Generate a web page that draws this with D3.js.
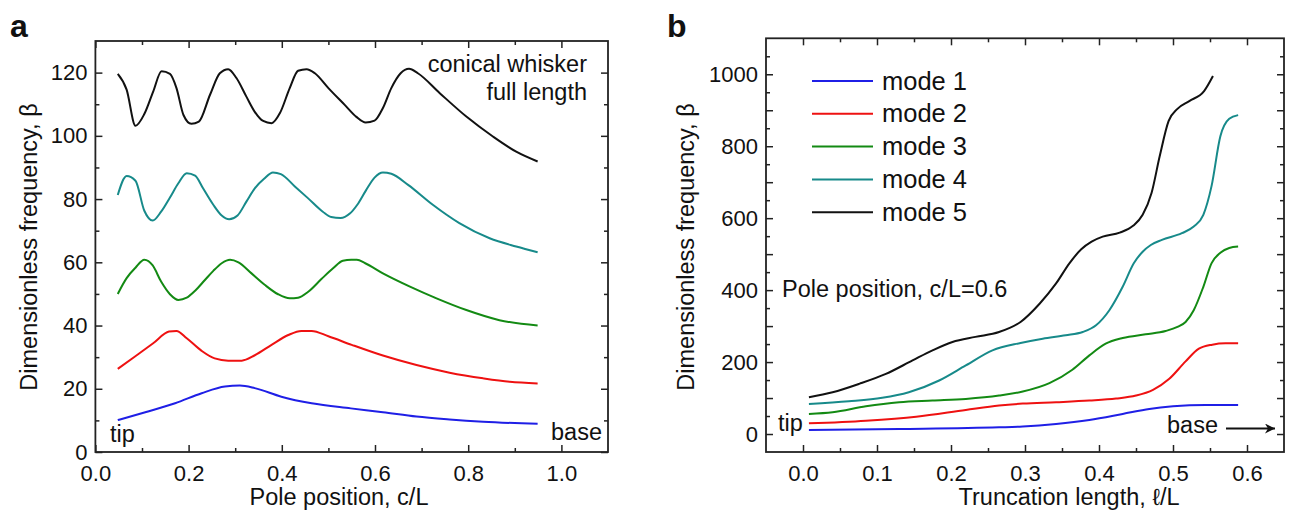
<!DOCTYPE html>
<html><head><meta charset="utf-8">
<script src="https://cdn.jsdelivr.net/npm/d3@7"></script>
<style>
body{margin:0;background:#fff}
text{font-family:"Liberation Sans",Arial,sans-serif;fill:#111}
</style>
</head><body>
<svg id="chart" width="1290" height="513"></svg>
<script>
// ---------- data: panel a (pole position c/L vs beta) ----------
const aMode1 = [[0.048,10.1],[0.107,12.6],[0.171,15.4],[0.228,18.6],[0.278,20.7],[0.310,21.0],[0.342,20.2],[0.399,17.5],[0.464,15.4],[0.548,13.8],[0.617,12.6],[0.689,11.2],[0.760,10.3],[0.832,9.6],[0.949,8.9]];
const aMode2 = [[0.048,26.3],[0.085,30.2],[0.124,34.4],[0.158,38.1],[0.174,38.3],[0.196,36.0],[0.228,32.0],[0.256,29.6],[0.285,28.9],[0.314,28.9],[0.342,30.6],[0.378,33.9],[0.414,37.0],[0.442,38.3],[0.464,38.3],[0.500,36.6],[0.550,33.9],[0.617,30.5],[0.689,27.5],[0.760,25.1],[0.832,23.3],[0.889,22.2],[0.949,21.7]];
const aMode3 = [[0.048,50.0],[0.067,55.0],[0.086,58.3],[0.105,60.8],[0.123,59.0],[0.141,53.9],[0.160,49.9],[0.178,48.1],[0.196,48.8],[0.214,51.0],[0.235,54.4],[0.253,57.3],[0.271,59.7],[0.289,60.8],[0.307,60.0],[0.335,56.5],[0.364,52.8],[0.392,49.9],[0.417,48.6],[0.435,48.8],[0.456,50.6],[0.485,54.7],[0.510,58.1],[0.531,60.5],[0.549,60.8],[0.561,60.8],[0.579,59.7],[0.617,56.5],[0.675,52.3],[0.732,48.6],[0.796,44.9],[0.867,41.7],[0.949,40.0]];
const aMode4 = [[0.048,81.3],[0.067,87.3],[0.086,85.8],[0.105,76.3],[0.123,73.2],[0.141,76.0],[0.160,80.5],[0.178,85.0],[0.196,88.2],[0.214,87.4],[0.231,83.4],[0.253,78.2],[0.271,74.8],[0.287,73.6],[0.305,74.8],[0.324,79.2],[0.342,83.4],[0.362,86.4],[0.381,88.4],[0.398,87.9],[0.428,84.0],[0.456,80.3],[0.488,76.0],[0.506,74.3],[0.526,74.0],[0.546,75.4],[0.562,78.2],[0.580,82.6],[0.599,86.8],[0.617,88.4],[0.635,88.0],[0.671,84.5],[0.724,78.2],[0.781,72.4],[0.846,67.6],[0.903,65.0],[0.949,63.2]];
const aMode5 = [[0.048,119.6],[0.067,114.6],[0.086,103.2],[0.105,106.9],[0.124,114.0],[0.142,120.4],[0.160,119.6],[0.174,115.1],[0.189,106.6],[0.206,103.8],[0.222,104.5],[0.246,113.0],[0.267,119.8],[0.285,121.1],[0.303,118.2],[0.324,112.4],[0.342,107.6],[0.360,104.7],[0.378,104.0],[0.396,107.2],[0.417,115.1],[0.435,120.6],[0.453,121.1],[0.471,119.8],[0.500,115.1],[0.535,109.8],[0.560,106.0],[0.580,104.2],[0.599,104.8],[0.617,108.8],[0.635,115.1],[0.655,119.8],[0.673,121.2],[0.692,119.8],[0.739,113.5],[0.796,106.1],[0.853,99.8],[0.903,95.0],[0.949,91.9]];

// ---------- data: panel b (truncation length l/L vs beta) ----------
const bMode1 = [[0.008,11.2],[0.130,14.0],[0.265,18.6],[0.297,20.8],[0.342,27.8],[0.387,39.0],[0.432,55.8],[0.468,69.8],[0.500,77.1],[0.544,80.9],[0.588,80.9]];
const bMode2 = [[0.008,29.6],[0.085,37.1],[0.153,48.3],[0.220,67.0],[0.265,79.1],[0.297,84.5],[0.342,88.4],[0.387,93.0],[0.423,98.6],[0.450,106.9],[0.473,122.8],[0.495,153.5],[0.517,201.8],[0.535,237.2],[0.553,248.4],[0.571,252.1],[0.588,252.1]];
const bMode3 = [[0.008,55.8],[0.040,60.5],[0.085,77.0],[0.130,88.2],[0.175,93.0],[0.220,97.6],[0.265,106.9],[0.297,118.0],[0.333,141.3],[0.364,178.6],[0.387,218.5],[0.409,251.0],[0.432,266.9],[0.463,277.1],[0.490,286.4],[0.506,297.6],[0.517,311.5],[0.528,344.1],[0.541,409.2],[0.552,474.5],[0.564,504.0],[0.576,517.2],[0.588,521.0]];
const bMode4 = [[0.008,83.7],[0.062,91.0],[0.107,100.5],[0.143,116.0],[0.184,148.8],[0.220,190.6],[0.256,232.5],[0.294,253.0],[0.324,265.0],[0.355,274.3],[0.378,283.6],[0.396,302.3],[0.414,344.1],[0.432,409.2],[0.447,474.5],[0.459,506.8],[0.470,525.5],[0.485,539.5],[0.512,558.2],[0.528,576.8],[0.541,609.3],[0.552,688.3],[0.564,827.8],[0.576,876.3],[0.588,886.5]];
const bMode5 = [[0.008,102.0],[0.040,116.0],[0.076,139.5],[0.112,167.0],[0.148,204.6],[0.175,232.5],[0.202,255.8],[0.233,270.0],[0.265,283.6],[0.294,311.5],[0.320,362.8],[0.342,418.6],[0.360,474.5],[0.376,513.5],[0.390,534.8],[0.405,548.6],[0.428,559.9],[0.446,578.6],[0.459,609.3],[0.471,669.8],[0.482,772.0],[0.494,869.7],[0.506,904.0],[0.522,925.5],[0.542,953.4],[0.554,995.3]];

const modeNames = ["mode 1","mode 2","mode 3","mode 4","mode 5"];

// ---------- tick values ----------
const aXMajor = [0,0.2,0.4,0.6,0.8,1.0];
const aXMinor = [0.1,0.3,0.5,0.7,0.9];
const aYMajor = [0,20,40,60,80,100,120];
const aYMinor = [10,30,50,70,90,110];
const bXMajor = [0,0.1,0.2,0.3,0.4,0.5,0.6];
const bXMinor = [0.05,0.15,0.25,0.35,0.45,0.55];
const bYLabeled = [0,200,400,600,800,1000];
const bYMajor = [0,100,200,300,400,500,600,700,800,900,1000];
const bYMinor = [50,150,250,350,450,550,650,750,850,950,1050];

// ---------- style ----------
const colors = ["#1f1fe6","#ee1111","#138a13","#178a8a","#111111"];
const svg = d3.select("#chart");

const defs = svg.append("defs");
defs.append("marker").attr("id","arr").attr("viewBox","0 0 10 10")
  .attr("refX",10).attr("refY",5).attr("markerWidth",17).attr("markerHeight",10)
  .attr("markerUnits","userSpaceOnUse").attr("orient","auto")
  .append("path").attr("d","M0,0 L10,5 L0,10 L3,5 Z").attr("fill","#111");

function frame(x, y, xMaj, xMin, yMaj, yMin, yLab, xFmt, yFmt){
  const [x0,x1] = x.range(), [y0,y1] = y.range();
  const g = svg.append("g");
  const style = sel => {
    sel.select(".domain").remove();
    sel.selectAll("line").attr("stroke","#222").attr("stroke-width",1.5);
    sel.selectAll("text").attr("font-family",'"Liberation Sans",Arial,sans-serif').attr("font-size",22).attr("fill","#111");
  };
  g.append("g").attr("transform",`translate(0,${y0})`)
    .call(d3.axisBottom(x).tickValues(xMaj).tickSizeInner(-7).tickSizeOuter(0).tickPadding(13).tickFormat(xFmt)).call(style);
  g.append("g").attr("transform",`translate(0,${y0})`)
    .call(d3.axisBottom(x).tickValues(xMin).tickSizeInner(-4).tickSizeOuter(0).tickFormat("")).call(style);
  g.append("g").attr("transform",`translate(0,${y1})`)
    .call(d3.axisTop(x).tickValues(xMaj).tickSizeInner(-7).tickSizeOuter(0).tickFormat("")).call(style);
  g.append("g").attr("transform",`translate(0,${y1})`)
    .call(d3.axisTop(x).tickValues(xMin).tickSizeInner(-4).tickSizeOuter(0).tickFormat("")).call(style);
  g.append("g").attr("transform",`translate(${x0},0)`)
    .call(d3.axisLeft(y).tickValues(yMaj).tickSizeInner(-7).tickSizeOuter(0).tickPadding(8)
      .tickFormat(d => yLab.includes(d) ? yFmt(d) : "")).call(style);
  g.append("g").attr("transform",`translate(${x0},0)`)
    .call(d3.axisLeft(y).tickValues(yMin).tickSizeInner(-4).tickSizeOuter(0).tickFormat("")).call(style);
  g.append("g").attr("transform",`translate(${x1},0)`)
    .call(d3.axisRight(y).tickValues(yMaj).tickSizeInner(-7).tickSizeOuter(0).tickFormat("")).call(style);
  g.append("g").attr("transform",`translate(${x1},0)`)
    .call(d3.axisRight(y).tickValues(yMin).tickSizeInner(-4).tickSizeOuter(0).tickFormat("")).call(style);
  g.append("rect").attr("x",x0).attr("y",y1).attr("width",x1-x0).attr("height",y0-y1)
    .attr("fill","none").attr("stroke","#222").attr("stroke-width",1.8);
}

function drawLines(x, y, series){
  const line = d3.line().x(d=>x(d[0])).y(d=>y(d[1])).curve(d3.curveMonotoneX);
  series.forEach((s,i)=>{
    svg.append("path").datum(s).attr("d",line).attr("fill","none")
      .attr("stroke",colors[i]).attr("stroke-width",2).attr("stroke-linejoin","round");
  });
}

const FS = 23.5;

// ---------- panel a ----------
const xa = d3.scaleLinear().domain([0,1.1]).range([95.4,608]);
const ya = d3.scaleLinear().domain([0,130]).range([452,41]);
frame(xa, ya, aXMajor, aXMinor, aYMajor, aYMinor, aYMajor, d3.format(".1f"), d3.format("d"));
drawLines(xa, ya, [aMode1,aMode2,aMode3,aMode4,aMode5]);

svg.append("text").attr("x",10).attr("y",37).attr("font-size",32).attr("font-weight","bold").text("a");
svg.append("text").attr("x",339).attr("y",505).attr("text-anchor","middle").attr("font-size",FS).text("Pole position, c/L");
svg.append("text").attr("transform","translate(37,247) rotate(-90)").attr("text-anchor","middle").attr("font-size",FS).text("Dimensionless frequency, β");
svg.append("text").attr("x",587).attr("y",72).attr("text-anchor","end").attr("font-size",FS).text("conical whisker");
svg.append("text").attr("x",587).attr("y",100).attr("text-anchor","end").attr("font-size",FS).text("full length");
svg.append("text").attr("x",110).attr("y",442).attr("font-size",FS).text("tip");
svg.append("text").attr("x",602).attr("y",440).attr("text-anchor","end").attr("font-size",FS).text("base");

// ---------- panel b ----------
const xb = d3.scaleLinear().domain([-0.05,0.65]).range([766,1284]);
const yb = d3.scaleLinear().domain([-50,1100]).range([452,38.3]);
frame(xb, yb, bXMajor, bXMinor, bYMajor, bYMinor, bYLabeled, d3.format(".1f"), d3.format("d"));
drawLines(xb, yb, [bMode1,bMode2,bMode3,bMode4,bMode5]);

svg.append("text").attr("x",667).attr("y",37).attr("font-size",32).attr("font-weight","bold").text("b");
svg.append("text").attr("x",1069).attr("y",505).attr("text-anchor","middle").attr("font-size",FS).text("Truncation length, ℓ/L");
svg.append("text").attr("transform","translate(694,247) rotate(-90)").attr("text-anchor","middle").attr("font-size",FS).text("Dimensionless frequency, β");
svg.append("text").attr("x",782).attr("y",297).attr("font-size",FS).text("Pole position, c/L=0.6");
svg.append("text").attr("x",778).attr("y",431).attr("font-size",FS).text("tip");
svg.append("text").attr("x",1167).attr("y",433).attr("font-size",FS).text("base");
svg.append("line").attr("x1",1226).attr("x2",1275).attr("y1",428.5).attr("y2",428.5)
  .attr("stroke","#111").attr("stroke-width",1.8).attr("marker-end","url(#arr)");

// legend
const leg = svg.append("g");
modeNames.forEach((name,i)=>{
  const yy = 81 + i*32.8;
  leg.append("line").attr("x1",812).attr("x2",873).attr("y1",yy).attr("y2",yy)
    .attr("stroke",colors[i]).attr("stroke-width",2);
  leg.append("text").attr("x",882).attr("y",yy+8.5).attr("font-size",25.5).text(name);
});
</script>
</body></html>
